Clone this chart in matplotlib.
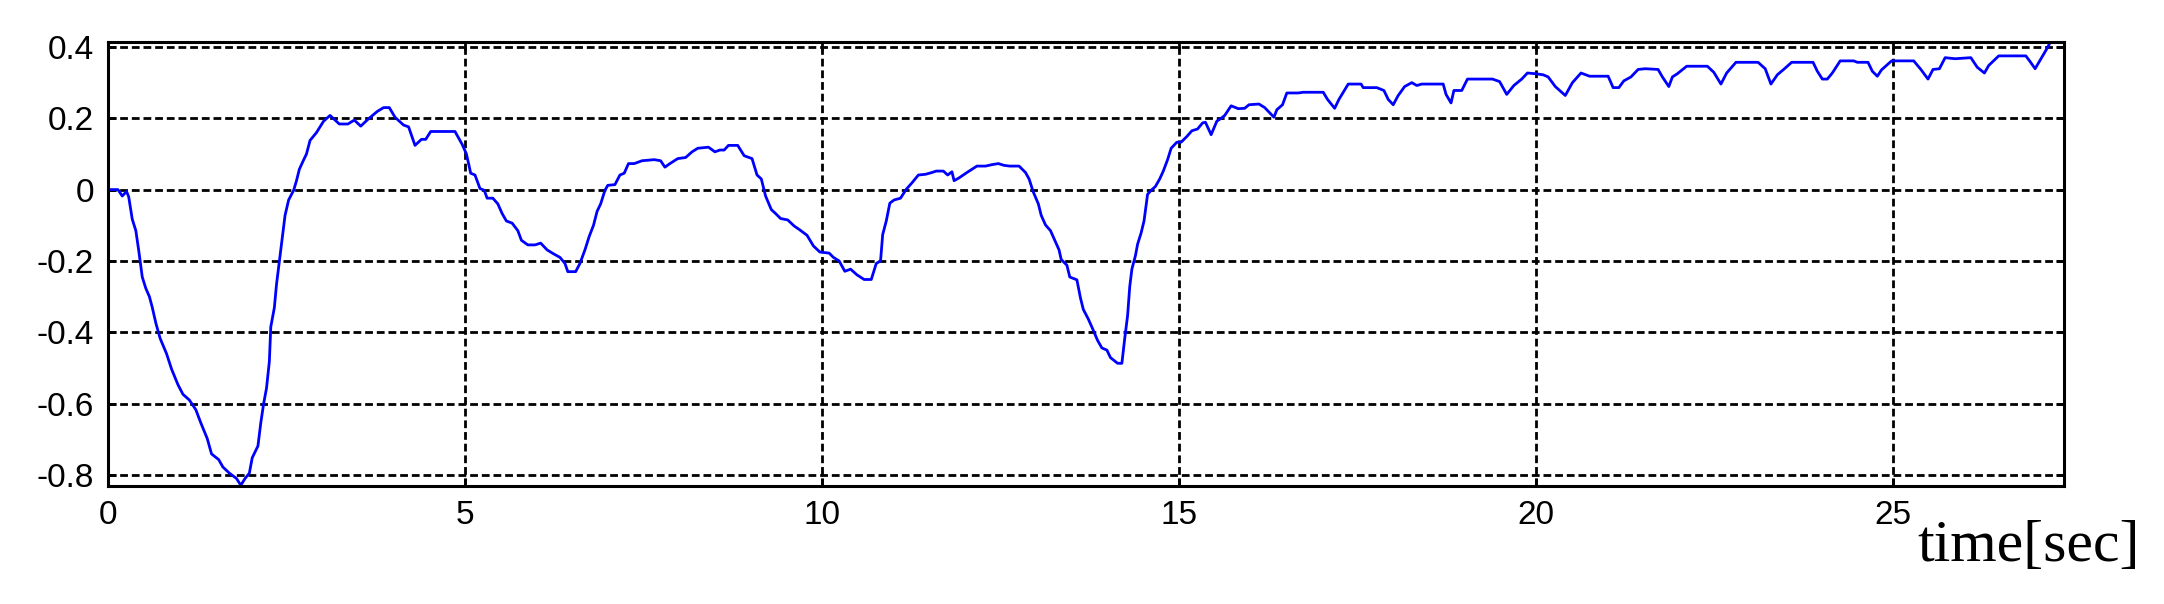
import numpy as np
import matplotlib
matplotlib.use('Agg')
import matplotlib.pyplot as plt

# response (time in s, value)
t = [0.0, 0.14, 0.2, 0.26, 0.29, 0.34, 0.39, 0.43, 0.48, 0.53, 0.58, 0.62,
     0.67, 0.73, 0.82, 0.89, 0.98, 1.05, 1.14, 1.23, 1.30, 1.39, 1.45, 1.55,
     1.61, 1.70, 1.80, 1.86, 1.92, 1.98, 2.02, 2.10, 2.14, 2.18, 2.22, 2.26,
     2.28, 2.33, 2.36, 2.40, 2.44, 2.48, 2.53, 2.60, 2.64, 2.68, 2.73, 2.78,
     2.83, 2.92, 3.02, 3.11, 3.24, 3.36, 3.45, 3.54, 3.64, 3.77, 3.86, 3.94,
     4.02, 4.14, 4.21, 4.30, 4.39, 4.45, 4.52, 4.86, 4.96, 5.02, 5.08, 5.14,
     5.21, 5.27, 5.31, 5.39, 5.46, 5.52, 5.58, 5.66, 5.74, 5.79, 5.88, 5.98,
     6.06, 6.15, 6.24, 6.33, 6.40, 6.44, 6.55, 6.61, 6.68, 6.74, 6.80, 6.85,
     6.90, 6.96, 7.00, 7.10, 7.17, 7.23, 7.29, 7.37, 7.48, 7.65, 7.74, 7.80,
     7.87, 7.98, 8.09, 8.18, 8.26, 8.41, 8.50, 8.57, 8.63, 8.69, 8.82, 8.91,
     9.02, 9.09, 9.15, 9.21, 9.29, 9.35, 9.42, 9.52, 9.61, 9.69, 9.79, 9.88,
     9.97, 10.10, 10.16, 10.24, 10.32, 10.40, 10.49, 10.59, 10.69, 10.76,
     10.82, 10.85, 10.90, 10.95, 11.01, 11.10, 11.18, 11.26, 11.35, 11.45,
     11.54, 11.60, 11.70, 11.76, 11.82, 11.85, 11.92, 12.03, 12.10, 12.17,
     12.29, 12.38, 12.47, 12.55, 12.63, 12.76, 12.85, 12.90, 12.96, 13.03,
     13.07, 13.13, 13.20, 13.26, 13.32, 13.35, 13.43, 13.47, 13.57, 13.62,
     13.66, 13.73, 13.79, 13.86, 13.92, 13.99, 14.04, 14.14, 14.20, 14.24,
     14.28, 14.31, 14.34, 14.39, 14.42, 14.47, 14.51, 14.56, 14.61, 14.67,
     14.73, 14.78, 14.84, 14.89, 14.97, 15.03, 15.11, 15.18, 15.26, 15.33,
     15.37, 15.45, 15.53, 15.59, 15.64, 15.73, 15.83, 15.92, 15.98, 16.12,
     16.20, 16.33, 16.37, 16.45, 16.51, 16.67, 16.74, 17.02, 17.08, 17.18,
     17.24, 17.37, 17.55, 17.58, 17.77, 17.87, 17.93, 18.00, 18.07, 18.16,
     18.26, 18.33, 18.40, 18.70, 18.74, 18.81, 18.85, 18.96, 19.04, 19.39,
     19.49, 19.59, 19.69, 19.80, 19.88, 19.99, 20.10, 20.17, 20.27, 20.41,
     20.51, 20.63, 20.75, 21.01, 21.08, 21.16, 21.23, 21.33, 21.43, 21.53,
     21.71, 21.77, 21.86, 21.91, 21.98, 22.11, 22.40, 22.49, 22.59, 22.67,
     22.80, 23.11, 23.21, 23.29, 23.38, 23.48, 23.58, 23.88, 23.94, 24.01,
     24.08, 24.15, 24.26, 24.45, 24.50, 24.65, 24.71, 24.78, 24.84, 24.98,
     25.29, 25.39, 25.49, 25.56, 25.65, 25.73, 25.87, 26.09, 26.18, 26.28,
     26.34, 26.48, 26.86, 26.92, 26.99, 27.08, 27.16, 27.22, 27.30, 27.40]
y = [0.0, 0.0, -0.018, -0.005, -0.02, -0.083, -0.115, -0.17, -0.245, -0.277,
     -0.30, -0.33, -0.374, -0.417, -0.46, -0.503, -0.547, -0.574, -0.59,
     -0.617, -0.654, -0.698, -0.741, -0.757, -0.778, -0.795, -0.81, -0.829,
     -0.81, -0.795, -0.752, -0.719, -0.654, -0.60, -0.557, -0.482, -0.385,
     -0.331, -0.266, -0.202, -0.137, -0.072, -0.029, -0.002, 0.025, 0.057,
     0.079, 0.10, 0.138, 0.16, 0.192, 0.208, 0.184, 0.184, 0.195, 0.178,
     0.197, 0.219, 0.23, 0.23, 0.203, 0.181, 0.176, 0.124, 0.141, 0.141,
     0.163, 0.163, 0.127, 0.10, 0.046, 0.041, 0.003, -0.002, -0.024, -0.024,
     -0.04, -0.067, -0.088, -0.094, -0.115, -0.142, -0.155, -0.155, -0.15,
     -0.169, -0.18, -0.19, -0.207, -0.23, -0.23, -0.207, -0.169, -0.131,
     -0.10, -0.061, -0.04, -0.002, 0.012, 0.014, 0.041, 0.046, 0.073, 0.073,
     0.081, 0.084, 0.081, 0.063, 0.073, 0.087, 0.09, 0.106, 0.116, 0.119,
     0.106, 0.111, 0.111, 0.124, 0.124, 0.095, 0.087, 0.041, 0.03, -0.018,
     -0.056, -0.067, -0.081, -0.085, -0.102, -0.113, -0.128, -0.158, -0.175,
     -0.178, -0.19, -0.20, -0.229, -0.223, -0.239, -0.252, -0.252, -0.207,
     -0.20, -0.126, -0.088, -0.038, -0.029, -0.024, 0.001, 0.019, 0.041,
     0.043, 0.048, 0.052, 0.052, 0.041, 0.05, 0.025, 0.033, 0.048, 0.057,
     0.066, 0.066, 0.07, 0.073, 0.068, 0.066, 0.066, 0.048, 0.03, -0.007,
     -0.04, -0.072, -0.099, -0.115, -0.142, -0.169, -0.196, -0.212, -0.245,
     -0.253, -0.304, -0.336, -0.363, -0.39, -0.423, -0.444, -0.45, -0.471,
     -0.487, -0.487, -0.417, -0.353, -0.272, -0.223, -0.185, -0.153, -0.121,
     -0.088, -0.013, -0.002, 0.009, 0.03, 0.052, 0.084, 0.116, 0.133, 0.133,
     0.149, 0.165, 0.17, 0.187, 0.189, 0.154, 0.192, 0.20, 0.208, 0.235,
     0.227, 0.228, 0.238, 0.24, 0.23, 0.203, 0.224, 0.238, 0.271, 0.271,
     0.273, 0.273, 0.253, 0.228, 0.253, 0.296, 0.296, 0.286, 0.286, 0.278,
     0.253, 0.238, 0.264, 0.289, 0.30, 0.292, 0.296, 0.296, 0.267, 0.243,
     0.278, 0.278, 0.31, 0.31, 0.303, 0.267, 0.292, 0.31, 0.327, 0.325,
     0.322, 0.316, 0.289, 0.264, 0.30, 0.327, 0.318, 0.318, 0.286, 0.286,
     0.305, 0.316, 0.337, 0.339, 0.337, 0.316, 0.289, 0.316, 0.325, 0.346,
     0.346, 0.329, 0.296, 0.327, 0.357, 0.357, 0.339, 0.296, 0.322, 0.339,
     0.357, 0.357, 0.332, 0.31, 0.31, 0.327, 0.361, 0.361, 0.357, 0.357,
     0.332, 0.318, 0.336, 0.361, 0.361, 0.337, 0.31, 0.337, 0.339, 0.37,
     0.367, 0.37, 0.343, 0.327, 0.348, 0.375, 0.375, 0.359, 0.339, 0.37,
     0.397, 0.42, 0.43, 0.43]

xticks = [0, 5, 10, 15, 20, 25]
yticks = [0.4, 0.2, 0, -0.2, -0.4, -0.6, -0.8]
ytick_labels = ['0.4', '0.2', '0', '-0.2', '-0.4', '-0.6', '-0.8']

fig = plt.figure(figsize=(21.64, 6.04), dpi=100)
ax = fig.add_axes([0.0499, 0.1954, 0.9039, 0.7351])

ax.plot(t, y, color='#0000ff', lw=2.0)
ax.set_xlim(0, 27.395)
ax.set_ylim(-0.831, 0.414)

ax.set_xticks(xticks)
ax.set_xticklabels([str(v) for v in xticks])
ax.set_yticks(yticks)
ax.set_yticklabels(ytick_labels)

ax.grid(True, color='black', lw=2.0, linestyle=(0, (2.8, 1.4)))
ax.tick_params(direction='in', length=6, width=2, top=True, right=True,
               labelsize=24, pad=10)
for lab in ax.get_xticklabels() + ax.get_yticklabels():
    lab.set_family('Liberation Sans')
for sp in ax.spines.values():
    sp.set_linewidth(2.2)

fig.text(1917 / 2164, 1 - 561 / 604, 'time[sec]', family='Liberation Serif',
         fontsize=43, ha='left', va='baseline')

fig.savefig('out.png', dpi=100)
